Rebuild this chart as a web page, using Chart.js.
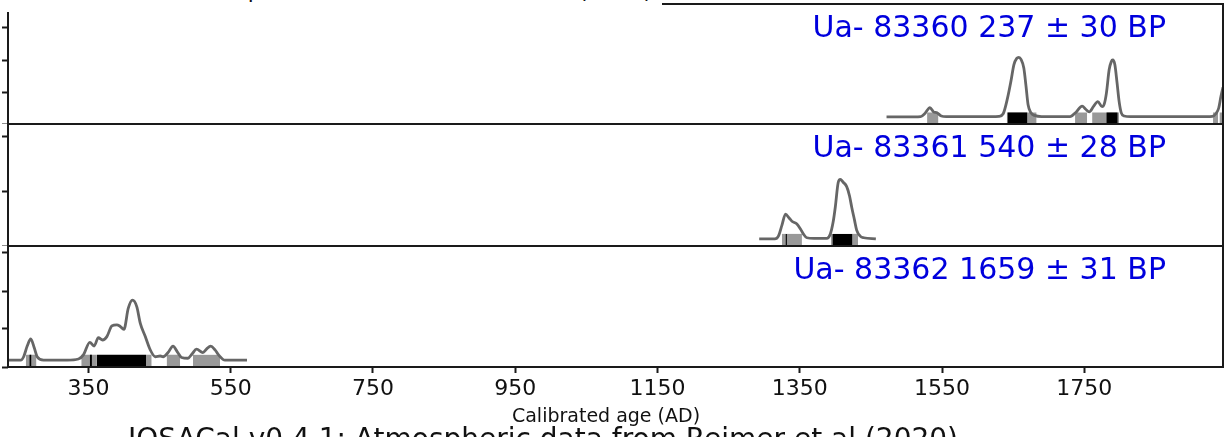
<!DOCTYPE html>
<html>
<head>
<meta charset="utf-8">
<script src="https://cdn.jsdelivr.net/npm/chart.js@4.4.1/dist/chart.umd.min.js"></script>
<style>
    html, body { margin: 0; padding: 0; background: #fff; overflow: hidden; }
    #wrap { position: relative; width: 1227px; height: 437px; overflow: hidden; font-family: 'DejaVu Sans', sans-serif; }
    canvas { position: absolute; left: 0; }
    #c1 { top: 0; }
    #c2 { top: 124px; }
    #c3 { top: 246px; }
    #topTitle { position: absolute; left: 0; top: 0; width: 662px; height: 12px; background: #fff; overflow: hidden; z-index: 2; }
    #topTitle span { position: absolute; right: 10px; top: -20px; font-size: 22px; line-height: 22px; white-space: nowrap; color: #111; }
    #footer { position: absolute; left: 0; top: 424px; width: 1227px; height: 13px; overflow: hidden; z-index: 2; }
    #footer span { position: absolute; right: 269px; top: 1px; font-size: 28px; line-height: 28px; white-space: nowrap; color: #111; }
</style>
</head>
<body>
<div id="wrap">
    <canvas id="c1" width="1227" height="124"></canvas>
    <canvas id="c2" width="1227" height="122"></canvas>
    <canvas id="c3" width="1227" height="191"></canvas>
    <div id="topTitle"><span>IOSACal v0.4.1; Atmospheric data from Reimer et al (2020)</span></div>
    <div id="footer"><span>IOSACal v0.4.1; Atmospheric data from Reimer et al (2020)</span></div>
</div>
<script>
// ── x axis ──
const xMin = 237;
const xMax = 1945;
const xTickValues = [350, 550, 750, 950, 1150, 1350, 1550, 1750];
const xTitle = 'Calibrated age (AD)';

// ── Ua-83360 (top) ──
const label1 = 'Ua- 83360 237 ± 30 BP';
const years1 = [1472, 1500, 1520, 1526, 1533, 1538, 1543, 1549, 1556, 1580,
                1620, 1630, 1636, 1642, 1647, 1651, 1655, 1658, 1661, 1665,
                1668, 1671, 1675, 1680, 1690, 1730, 1738, 1747, 1752, 1757,
                1763, 1769, 1775, 1778, 1781, 1785, 1788, 1790, 1793, 1796,
                1799, 1802, 1806, 1815, 1900, 1922, 1930, 1935, 1939, 1942, 1945];
const dens1  = [0.22, 0.22, 0.23, 0.33, 0.51, 0.38, 0.35, 0.25, 0.23, 0.23,
                0.23, 0.24, 0.32, 0.80, 1.35, 1.85, 2.05, 2.08, 2.02, 1.75,
                1.20, 0.60, 0.35, 0.27, 0.23, 0.23, 0.36, 0.56, 0.46, 0.38,
                0.55, 0.70, 0.54, 0.62, 0.95, 1.70, 1.95, 2.00, 1.85, 1.30,
                0.70, 0.35, 0.25, 0.23, 0.23, 0.23, 0.24, 0.32, 0.50, 0.85, 1.15];
const range95_1 = [[1529, 1545], [1641, 1683], [1737, 1754], [1761, 1799], [1931, 1938], [1940, 1945]];
const range68_1 = [[1642, 1670], [1781, 1797]];
const yTicks1 = [0, 1, 2, 3];

// ── Ua-83361 (middle) ──
const label2 = 'Ua- 83361 540 ± 28 BP';
const years2 = [1293, 1315, 1320, 1325, 1330, 1335, 1339, 1346, 1351, 1355,
                1360, 1370, 1388, 1393, 1397, 1400, 1404, 1407, 1411, 1416,
                1420, 1423, 1427, 1430, 1435, 1440, 1457];
const dens2  = [0.13, 0.13, 0.18, 0.38, 0.58, 0.51, 0.45, 0.40, 0.31, 0.22,
                0.15, 0.14, 0.14, 0.22, 0.44, 0.71, 1.15, 1.21, 1.16, 1.08,
                0.91, 0.71, 0.47, 0.29, 0.18, 0.15, 0.13];
const range95_2 = [[1325, 1353], [1394, 1432]];
const range68_2 = [[1330, 1332], [1396, 1424]];
const yTicks2 = [0, 1, 2];

// ── Ua-83362 (bottom) ──
const label3 = 'Ua- 83362 1659 ± 31 BP';
const years3 = [238, 255, 259, 264, 269, 274, 278, 287, 320, 336,
                343, 352, 358, 364, 370, 376, 383, 390, 394, 400,
                406, 412, 418, 423, 430, 437, 444, 451, 455, 462,
                469, 475, 481, 490, 496, 502, 511, 516, 522, 528,
                533, 542, 573];
const dens3  = [0.18, 0.18, 0.27, 0.55, 0.74, 0.50, 0.27, 0.18, 0.18, 0.21,
                0.32, 0.65, 0.55, 0.77, 0.71, 0.80, 1.08, 1.11, 1.08, 0.99,
                1.54, 1.76, 1.59, 1.15, 0.80, 0.45, 0.27, 0.29, 0.27, 0.38,
                0.55, 0.40, 0.25, 0.23, 0.35, 0.47, 0.38, 0.47, 0.55, 0.45,
                0.32, 0.18, 0.18];
const range95_3 = [[262, 277], [340, 362], [431, 439], [460, 479], [497, 535]];
const range68_3 = [[267, 270], [352, 355], [362, 431]];
const yTicks3 = [0, 1, 2, 3];

Chart.defaults.font.family = "'DejaVu Sans', sans-serif";

// ── กรอบของแต่ละ panel ──
const framePlugin = {
    id: 'frame',
    afterDraw(chart) {
        const { ctx, chartArea: a } = chart;
        ctx.save();
        ctx.strokeStyle = '#1a1a1a';
        ctx.lineWidth = 2;
        ctx.strokeRect(a.left, a.top, a.right - a.left, a.bottom - a.top);
        ctx.restore();
    }
};

function labelPlugin(text) {
    return {
        id: 'sampleLabel',
        afterDatasetsDraw(chart) {
            const { ctx, chartArea: a } = chart;
            ctx.save();
            ctx.font = "30px 'DejaVu Sans', sans-serif";
            ctx.fillStyle = '#0000dd';
            ctx.textAlign = 'right';
            ctx.textBaseline = 'alphabetic';
            ctx.fillText(text, a.right - 57, a.top + 33);
            ctx.restore();
        }
    };
}

function buildPanel(id, p) {
    const datasets = [{
        data: p.years.map((x, i) => ({ x, y: p.dens[i] })),
        borderColor: '#666',
        borderWidth: 2.8,
        pointRadius: 0,
        cubicInterpolationMode: 'monotone',
        fill: false,
        order: 0
    }];
    p.range68.forEach(r => datasets.push({
        data: [{ x: r[0], y: p.barH }, { x: r[1], y: p.barH }],
        borderWidth: 0, pointRadius: 0, fill: 'origin',
        backgroundColor: '#000', order: 1
    }));
    p.range95.forEach(r => datasets.push({
        data: [{ x: r[0], y: p.barH }, { x: r[1], y: p.barH }],
        borderWidth: 0, pointRadius: 0, fill: 'origin',
        backgroundColor: '#999', order: 2
    }));

    return new Chart(document.getElementById(id), {
        type: 'line',
        data: { datasets },
        options: {
            responsive: false,
            animation: false,
            devicePixelRatio: 1,
            layout: { padding: { top: p.padTop, right: 4, left: 0, bottom: 0 } },
            plugins: { legend: { display: false }, tooltip: { enabled: false } },
            scales: {
                x: {
                    type: 'linear',
                    min: xMin,
                    max: xMax,
                    display: p.showX,
                    afterBuildTicks: s => { s.ticks = xTickValues.map(v => ({ value: v })); },
                    ticks: { callback: v => String(v), font: { size: 22 }, color: '#111', padding: 3, maxRotation: 0, autoSkip: false },
                    grid: { drawOnChartArea: false, drawTicks: true, tickLength: 6, tickWidth: 2, tickColor: '#1a1a1a' },
                    border: { display: false },
                    // เว้นวรรคท้ายเพื่อเลื่อนชื่อแกนไปทางซ้ายเล็กน้อย
                    title: { display: true, text: xTitle + '\u2002\u2002', font: { size: 19 }, color: '#111', padding: { top: 0, bottom: 9 } },
                    afterFit: s => { if (p.showX) s.height = 70; }
                },
                y: {
                    type: 'linear',
                    min: 0,
                    max: p.yMax,
                    afterBuildTicks: s => { s.ticks = p.yTicks.map(v => ({ value: v })); },
                    ticks: { display: false },
                    grid: { drawOnChartArea: false, drawTicks: true, tickLength: 6, tickWidth: 2, tickColor: '#1a1a1a' },
                    border: { display: false },
                    afterFit: s => { s.width = 8; }
                }
            }
        },
        plugins: [framePlugin, labelPlugin(p.label)]
    });
}

buildPanel('c1', { years: years1, dens: dens1, range95: range95_1, range68: range68_1,
                   yTicks: yTicks1, yMax: 120 / 32, barH: 0.36, label: label1, padTop: 4, showX: false });
buildPanel('c2', { years: years2, dens: dens2, range95: range95_2, range68: range68_2,
                   yTicks: yTicks2, yMax: 122 / 55, barH: 0.22, label: label2, padTop: 0, showX: false });
buildPanel('c3', { years: years3, dens: dens3, range95: range95_3, range68: range68_3,
                   yTicks: yTicks3, yMax: 121 / 38, barH: 0.32, label: label3, padTop: 0, showX: true });
</script>
</body>
</html>
